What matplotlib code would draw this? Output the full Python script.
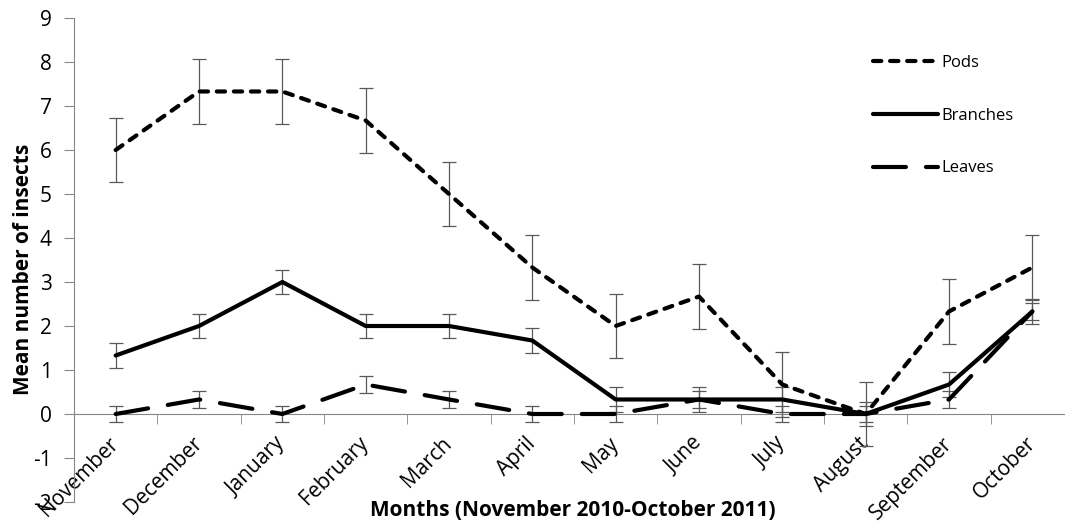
import numpy as np
import matplotlib.pyplot as plt

months = ["November", "December", "January", "February", "March", "April",
          "May", "June", "July", "August", "September", "October"]

pods = [6.0, 7.33, 7.33, 6.67, 5.0, 3.33, 2.0, 2.67, 0.67, 0.0, 2.33, 3.33]
pods_err = [0.73] * 12

branches = [1.33, 2.0, 3.0, 2.0, 2.0, 1.67, 0.33, 0.33, 0.33, 0.0, 0.67, 2.33]
branches_err = [0.28] * 12

leaves = [0.0, 0.33, 0.0, 0.67, 0.33, 0.0, 0.0, 0.33, 0.0, 0.0, 0.33, 2.33]
leaves_err = [0.19] * 12

plt.rcParams['font.family'] = ['Open Sans', 'DejaVu Sans']
plt.rcParams['axes.unicode_minus'] = False

fig = plt.figure(figsize=(10.65, 5.29), dpi=100)
# right edge of the plot area runs past the figure, like the original export
ax = fig.add_axes([74 / 1065, 27 / 529, 1000 / 1065, 484 / 529])

x = np.arange(len(months))
grey = "#595959"

series = [
    ("Pods", pods, pods_err, (2.0, 2.1)),
    ("Branches", branches, branches_err, None),
    ("Leaves", leaves, leaves_err, (7.9, 4.8)),
]
for name, vals, err, dash in series:
    ax.errorbar(x, vals, yerr=err, fmt="none", ecolor=grey, elinewidth=0.9,
                capsize=5, capthick=0.9, zorder=2)
    if dash is None:
        ax.plot(x, vals, color="black", lw=3, solid_capstyle="round",
                label=name, zorder=3)
    else:
        ax.plot(x, vals, color="black", lw=3, dashes=dash,
                dash_capstyle="round", label=name, zorder=3)

ax.set_xlim(-0.5, 11.5)
ax.set_ylim(-2, 9)
ax.set_yticks(range(-2, 10))

for side in ["top", "right"]:
    ax.spines[side].set_visible(False)
ax.spines["bottom"].set_position(("data", 0))
ax.spines["bottom"].set_color("#868686")
ax.spines["left"].set_color("#868686")

ax.set_xticks(x)
ax.set_xticklabels(months, rotation=45, ha="right", va="center",
                   rotation_mode="anchor")
ax.set_xticks(np.arange(0.5, 11.5, 1), minor=True)
ax.tick_params(axis="x", which="major", length=0, pad=19, labelsize=15)
ax.tick_params(axis="x", which="minor", length=7, color="#868686")
ax.tick_params(axis="y", length=7, color="#868686", labelsize=15, pad=9)

fig.text(573 / 1065, 18 / 529, "Months (November 2010-October 2011)",
         ha="center", va="center", fontsize=15, fontweight="bold")
fig.text(24 / 1065, 260 / 529, "Mean number of insects", rotation=90,
         ha="center", va="center", fontsize=15, fontweight="bold")

ax.legend(loc="upper left", bbox_to_anchor=(858 / 1065, 1 - 40 / 529),
          bbox_transform=fig.transFigure, frameon=False, fontsize=12,
          handlelength=3.9, handletextpad=0.2, labelspacing=2.2)

fig.savefig("out.png", dpi=100)
